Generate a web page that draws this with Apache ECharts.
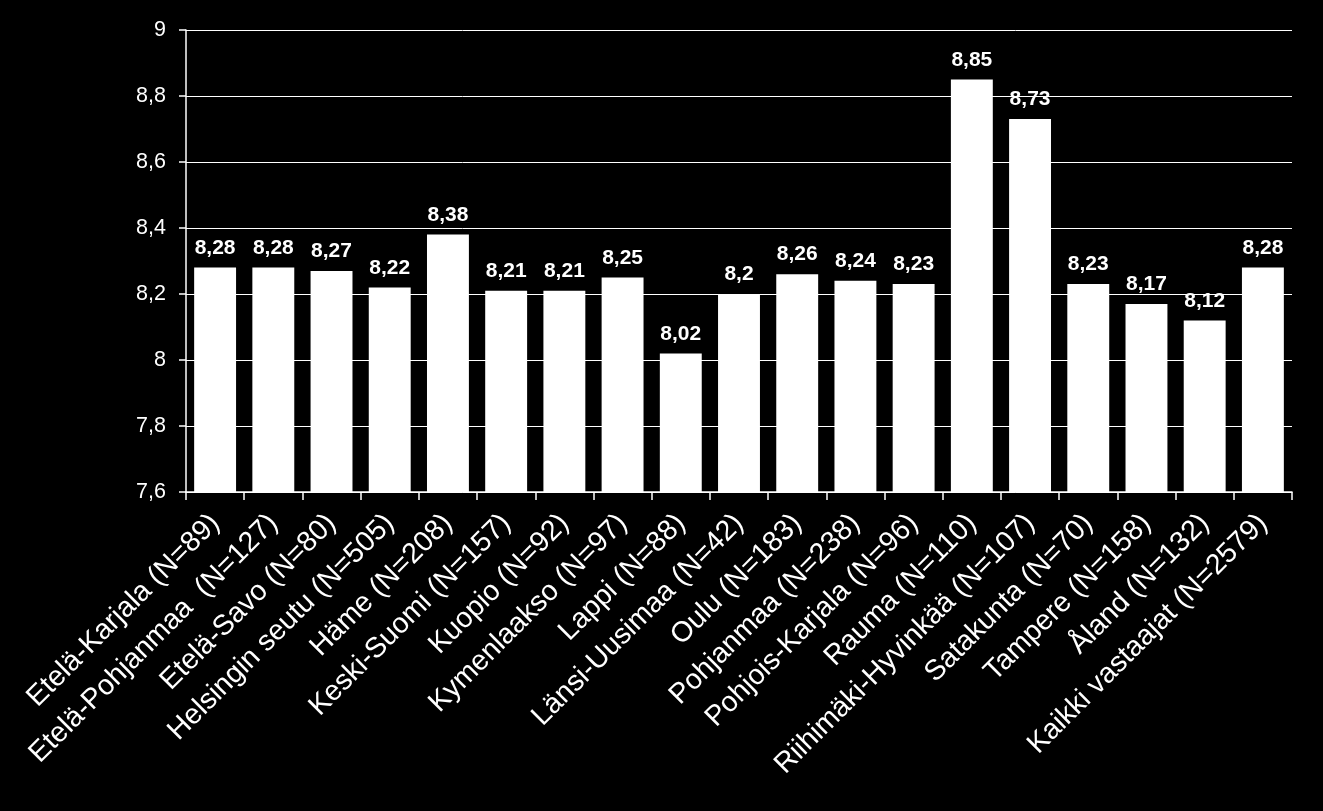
<!DOCTYPE html>
<html><head><meta charset="utf-8">
<script src="https://cdn.jsdelivr.net/npm/echarts@6/dist/echarts.min.js"></script>
<style>html,body{margin:0;padding:0;background:#000}#c{width:1323px;height:811px}</style>
</head><body><div id="c"></div>
<script>
const categories = ["Etelä-Karjala (N=89)","Etelä-Pohjanmaa  (N=127)","Etelä-Savo (N=80)","Helsingin seutu (N=505)","Häme (N=208)","Keski-Suomi (N=157)","Kuopio (N=92)","Kymenlaakso (N=97)","Lappi (N=88)","Länsi-Uusimaa (N=42)","Oulu (N=183)","Pohjanmaa (N=238)","Pohjois-Karjala (N=96)","Rauma (N=110)","Riihimäki-Hyvinkää (N=107)","Satakunta (N=70)","Tampere (N=158)","Åland (N=132)","Kaikki vastaajat (N=2579)"];
const values = [8.28,8.28,8.27,8.22,8.38,8.21,8.21,8.25,8.02,8.2,8.26,8.24,8.23,8.85,8.73,8.23,8.17,8.12,8.28];
const yMin = 7.6, yMax = 9, yStep = 0.2;
const fmt = v => String(Math.round(v*100)/100).replace('.', ',');
const chart = echarts.init(document.getElementById('c'));
chart.setOption({
  backgroundColor:'#000',
  animation:false,
  grid:{left:186,right:31,top:30,bottom:319},
  xAxis:{type:'category',data:categories,
    axisLine:{lineStyle:{color:'#fff',width:1.5}},
    axisTick:{show:true,length:8,lineStyle:{color:'#fff',width:1.5},alignWithLabel:false},
    axisLabel:{rotate:45,color:'#fff',fontFamily:'Liberation Sans, Arial',fontSize:28.5,margin:27,interval:0}
  },
  yAxis:{type:'value',min:yMin,max:yMax,interval:yStep,
    axisLine:{show:true,lineStyle:{color:'#fff',width:1.5}},
    axisTick:{show:true,length:7,lineStyle:{color:'#fff',width:1.5}},
    splitLine:{lineStyle:{color:'#fff',width:1}},
    axisLabel:{color:'#fff',fontFamily:'Liberation Sans, Arial',fontSize:21.5,margin:20,formatter:v=>fmt(v)}
  },
  series:[{type:'bar',data:values,barCategoryGap:'28%',
    itemStyle:{color:'#fff'},
    label:{show:true,position:'top',distance:9,color:'#fff',fontWeight:'bold',fontFamily:'Liberation Sans, Arial',fontSize:21,formatter:p=>fmt(p.value)}
  }]
});
</script></body></html>
